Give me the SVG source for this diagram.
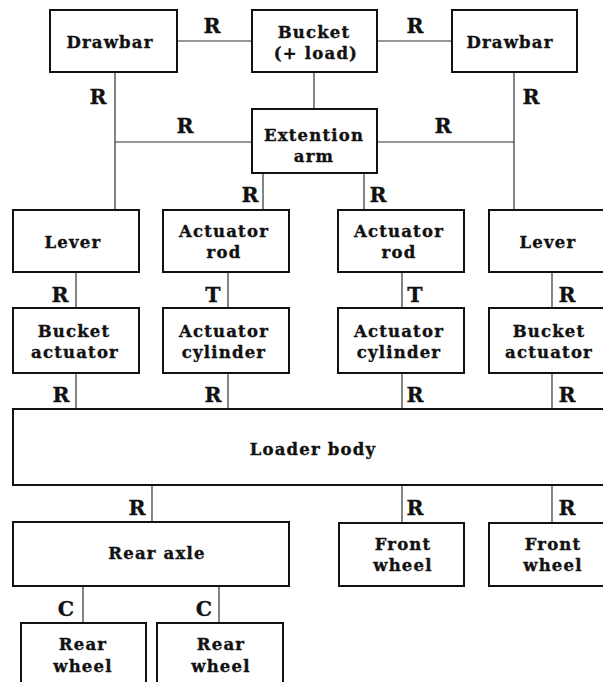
<svg xmlns="http://www.w3.org/2000/svg" width="603" height="682" viewBox="0 0 603 682">
<style>
.box{fill:#fff;stroke:#111;stroke-width:2}
.t{font-family:"DejaVu Serif",serif;font-weight:bold;font-size:16.5px;letter-spacing:1.2px;text-anchor:middle;fill:#111;stroke:#111;stroke-width:0.35}
.l{font-family:"DejaVu Serif",serif;font-weight:bold;font-size:20.5px;text-anchor:middle;fill:#111;stroke:#111;stroke-width:0.3}
.c line{stroke:#333;stroke-width:1.2}
</style>
<rect width="603" height="682" fill="#fff"/>
<g id="connectors" class="c">
<line x1="177" y1="41" x2="252" y2="41"/>
<line x1="377" y1="41" x2="452" y2="41"/>
<line x1="314" y1="72" x2="314" y2="109"/>
<line x1="115" y1="72" x2="115" y2="210"/>
<line x1="115" y1="142" x2="252" y2="142"/>
<line x1="377" y1="142" x2="514" y2="142"/>
<line x1="514" y1="72" x2="514" y2="210"/>
<line x1="263" y1="173" x2="263" y2="210"/>
<line x1="364" y1="173" x2="364" y2="210"/>
<line x1="76" y1="272" x2="76" y2="308"/>
<line x1="228" y1="272" x2="228" y2="308"/>
<line x1="402" y1="272" x2="402" y2="308"/>
<line x1="552" y1="272" x2="552" y2="308"/>
<line x1="76" y1="373" x2="76" y2="409"/>
<line x1="228" y1="373" x2="228" y2="409"/>
<line x1="402" y1="373" x2="402" y2="409"/>
<line x1="552" y1="373" x2="552" y2="409"/>
<line x1="152" y1="485" x2="152" y2="522"/>
<line x1="402" y1="485" x2="402" y2="523"/>
<line x1="552" y1="485" x2="552" y2="523"/>
<line x1="83" y1="586" x2="83" y2="623"/>
<line x1="219" y1="586" x2="219" y2="623"/>
<text class="l" x="212" y="33">R</text>
<text class="l" x="415" y="33">R</text>
<text class="l" x="98" y="104">R</text>
<text class="l" x="531" y="104">R</text>
<text class="l" x="185" y="133">R</text>
<text class="l" x="443" y="133">R</text>
<text class="l" x="250" y="202">R</text>
<text class="l" x="378" y="202">R</text>
<text class="l" x="60" y="302">R</text>
<text class="l" x="213" y="302">T</text>
<text class="l" x="415" y="302">T</text>
<text class="l" x="567" y="302">R</text>
<text class="l" x="61" y="402">R</text>
<text class="l" x="213" y="402">R</text>
<text class="l" x="415" y="402">R</text>
<text class="l" x="567" y="402">R</text>
<text class="l" x="137" y="515">R</text>
<text class="l" x="415" y="515">R</text>
<text class="l" x="567" y="515">R</text>
<text class="l" x="66" y="616">C</text>
<text class="l" x="204" y="616">C</text>
</g>
<g id="drawbar-left"><rect class="box" x="50" y="10" width="127" height="62"/><text class="t" x="110" y="48">Drawbar</text></g>
<g id="bucket"><rect class="box" x="252" y="10" width="125" height="62"/><text class="t" x="314" y="38">Bucket</text><text class="t" x="316" y="59">(+ load)</text></g>
<g id="drawbar-right"><rect class="box" x="452" y="10" width="125" height="62"/><text class="t" x="510" y="48">Drawbar</text></g>
<g id="extention-arm"><rect class="box" x="252" y="109" width="125" height="64"/><text class="t" x="314" y="141">Extention</text><text class="t" x="314" y="162">arm</text></g>
<g id="lever-left"><rect class="box" x="13" y="210" width="126" height="62"/><text class="t" x="73" y="248">Lever</text></g>
<g id="actuator-rod-left"><rect class="box" x="163" y="210" width="126" height="62"/><text class="t" x="224" y="237">Actuator</text><text class="t" x="224" y="258">rod</text></g>
<g id="actuator-rod-right"><rect class="box" x="338" y="210" width="126" height="62"/><text class="t" x="399" y="237">Actuator</text><text class="t" x="399" y="258">rod</text></g>
<g id="lever-right"><rect class="box" x="489" y="210" width="120" height="62"/><text class="t" x="548" y="248">Lever</text></g>
<g id="bucket-actuator-left"><rect class="box" x="13" y="308" width="126" height="65"/><text class="t" x="74" y="337">Bucket</text><text class="t" x="75" y="358">actuator</text></g>
<g id="actuator-cylinder-left"><rect class="box" x="163" y="308" width="126" height="65"/><text class="t" x="224" y="337">Actuator</text><text class="t" x="224" y="358">cylinder</text></g>
<g id="actuator-cylinder-right"><rect class="box" x="338" y="308" width="126" height="65"/><text class="t" x="399" y="337">Actuator</text><text class="t" x="399" y="358">cylinder</text></g>
<g id="bucket-actuator-right"><rect class="box" x="489" y="308" width="120" height="65"/><text class="t" x="549" y="337">Bucket</text><text class="t" x="549" y="358">actuator</text></g>
<g id="loader-body"><rect class="box" x="13" y="409" width="596" height="76"/><text class="t" x="313" y="455">Loader body</text></g>
<g id="rear-axle"><rect class="box" x="13" y="522" width="276" height="64"/><text class="t" x="157" y="559">Rear axle</text></g>
<g id="front-wheel-left"><rect class="box" x="339" y="523" width="125" height="63"/><text class="t" x="403" y="550">Front</text><text class="t" x="403" y="571">wheel</text></g>
<g id="front-wheel-right"><rect class="box" x="489" y="523" width="120" height="63"/><text class="t" x="553" y="550">Front</text><text class="t" x="553" y="571">wheel</text></g>
<g id="rear-wheel-left"><rect class="box" x="21" y="623" width="125" height="70"/><text class="t" x="83" y="650">Rear</text><text class="t" x="83" y="672">wheel</text></g>
<g id="rear-wheel-right"><rect class="box" x="157" y="623" width="126" height="70"/><text class="t" x="221" y="650">Rear</text><text class="t" x="221" y="672">wheel</text></g>
</svg>
